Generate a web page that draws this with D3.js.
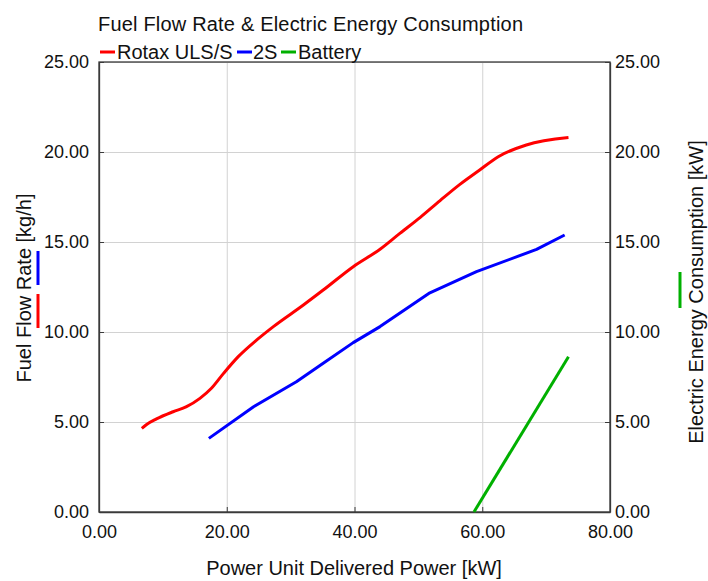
<!DOCTYPE html>
<html>
<head>
<meta charset="utf-8">
<script src="https://cdn.jsdelivr.net/npm/d3@7"></script>
<style>
  body { margin: 0; background: #fff; }
  svg { display: block; font-family: "Liberation Sans", Arial, sans-serif; }
</style>
</head>
<body>
<svg id="chart" width="708" height="581"></svg>
<script>
// ---- Data ----
const seriesNames = ["Rotax ULS/S", "2S", "Battery"];
const seriesColors = ["#ff0000", "#0000ff", "#00b000"];
const rotaxX = [6.7, 7.4, 9.0, 11.6, 13.7, 15.8, 17.6, 19.5, 21.8, 24.7, 27.3, 32.0, 35.1, 39.8, 44.0, 47.1, 50.3, 53.4, 56.5, 59.6, 62.5, 66.9, 73.5];
const rotaxY = [4.65, 4.85, 5.17, 5.57, 5.85, 6.31, 6.87, 7.70, 8.63, 9.56, 10.30, 11.50, 12.33, 13.63, 14.60, 15.48, 16.37, 17.30, 18.20, 19.00, 19.74, 20.39, 20.80];
const twoSX = [17.2, 24.2, 30.9, 35.1, 39.8, 44.0, 51.8, 59.1, 68.5, 72.9];
const twoSY = [4.09, 5.85, 7.24, 8.26, 9.41, 10.30, 12.18, 13.35, 14.59, 15.39];
const batteryX = [58.7, 73.5];
const batteryY = [0.0, 8.63];
const xTicks = [0, 20, 40, 60, 80];
const yTicks = [0, 5, 10, 15, 20, 25];

// ---- Layout ----
const svg = d3.select("#chart");
const L = 99, R = 610, T = 62, B = 512;
const x = d3.scaleLinear().domain([0, 80]).range([L, R]);
const yL = d3.scaleLinear().domain([0, 25]).range([B, T]);
const yR = d3.scaleLinear().domain([0, 25]).range([B, T]);
const fmt = d3.format(".2f");

// gridlines
svg.append("g").attr("transform", `translate(0,${B})`)
  .call(d3.axisBottom(x).tickValues(xTicks).tickSize(-(B - T)).tickFormat(""))
  .call(g => g.select(".domain").remove())
  .call(g => g.selectAll("line").attr("stroke", "#d2d2d2").attr("stroke-width", 1));
svg.append("g").attr("transform", `translate(${L},0)`)
  .call(d3.axisLeft(yL).tickValues(yTicks).tickSize(-(R - L)).tickFormat(""))
  .call(g => g.select(".domain").remove())
  .call(g => g.selectAll("line").attr("stroke", "#d2d2d2").attr("stroke-width", 1));

// frame
svg.append("rect").attr("x", L).attr("y", T).attr("width", R - L).attr("height", B - T)
  .attr("fill", "none").attr("stroke", "#3a3a3a").attr("stroke-width", 1.3);

function styleAxis(g) {
  g.select(".domain").attr("stroke", "#3a3a3a").attr("stroke-width", 1.3);
  g.selectAll(".tick line").attr("stroke", "#3a3a3a");
  g.selectAll("text").attr("font-size", 18).attr("fill", "#111")
    .attr("font-family", "Liberation Sans, Arial, sans-serif");
}

svg.append("g").attr("transform", `translate(0,${B})`)
  .call(d3.axisBottom(x).tickValues(xTicks).tickSizeInner(-5).tickSizeOuter(0).tickPadding(13).tickFormat(fmt))
  .call(styleAxis);
svg.append("g").attr("transform", `translate(${L},0)`)
  .call(d3.axisLeft(yL).tickValues(yTicks).tickSizeInner(-5).tickSizeOuter(0).tickPadding(10).tickFormat(fmt))
  .call(styleAxis);
svg.append("g").attr("transform", `translate(${R},0)`)
  .call(d3.axisRight(yR).tickValues(yTicks).tickSizeInner(-5).tickSizeOuter(0).tickPadding(5).tickFormat(fmt))
  .call(styleAxis);

// lines
const lineSmooth = d3.line().x(d => x(d[0])).y(d => yL(d[1])).curve(d3.curveMonotoneX);
const lineStraight = d3.line().x(d => x(d[0])).y(d => yL(d[1]));
const lineR = d3.line().x(d => x(d[0])).y(d => yR(d[1]));
const seriesData = [
  { pts: d3.zip(rotaxX, rotaxY), gen: lineSmooth },
  { pts: d3.zip(twoSX, twoSY), gen: lineStraight },
  { pts: d3.zip(batteryX, batteryY), gen: lineR }
];
seriesData.forEach((s, i) => {
  svg.append("path").datum(s.pts).attr("d", s.gen)
    .attr("fill", "none").attr("stroke", seriesColors[i])
    .attr("stroke-width", 3).attr("stroke-linejoin", "round");
});

// title
svg.append("text").attr("x", 98).attr("y", 31).attr("font-size", 20).attr("fill", "#111")
  .attr("textLength", 425).attr("lengthAdjust", "spacing")
  .text("Fuel Flow Rate & Electric Energy Consumption");

// legend
const legendPos = [[100, 117], [237, 253], [281, 298]];
seriesNames.forEach((n, i) => {
  svg.append("line").attr("x1", legendPos[i][0]).attr("x2", legendPos[i][0] + 15)
    .attr("y1", 52).attr("y2", 52).attr("stroke", seriesColors[i]).attr("stroke-width", 3);
  svg.append("text").attr("x", legendPos[i][1]).attr("y", 58.5).attr("font-size", 20).attr("fill", "#111")
    .text(n);
});

// axis titles
svg.append("text").attr("x", 354).attr("y", 575).attr("text-anchor", "middle")
  .attr("font-size", 20).attr("fill", "#111").text("Power Unit Delivered Power [kW]");
svg.append("text").attr("transform", "translate(31,288) rotate(-90)").attr("text-anchor", "middle")
  .attr("font-size", 20).attr("fill", "#111").text("Fuel Flow Rate [kg/h]");
svg.append("text").attr("transform", "translate(703,292) rotate(-90)").attr("text-anchor", "middle")
  .attr("font-size", 20).attr("fill", "#111").text("Electric Energy Consumption [kW]");

// colored axis markers
svg.append("line").attr("x1", 38).attr("x2", 38).attr("y1", 251).attr("y2", 285)
  .attr("stroke", seriesColors[1]).attr("stroke-width", 3);
svg.append("line").attr("x1", 38).attr("x2", 38).attr("y1", 294).attr("y2", 328)
  .attr("stroke", seriesColors[0]).attr("stroke-width", 3);
svg.append("line").attr("x1", 680).attr("x2", 680).attr("y1", 272).attr("y2", 308)
  .attr("stroke", seriesColors[2]).attr("stroke-width", 3);
</script>
</body>
</html>
